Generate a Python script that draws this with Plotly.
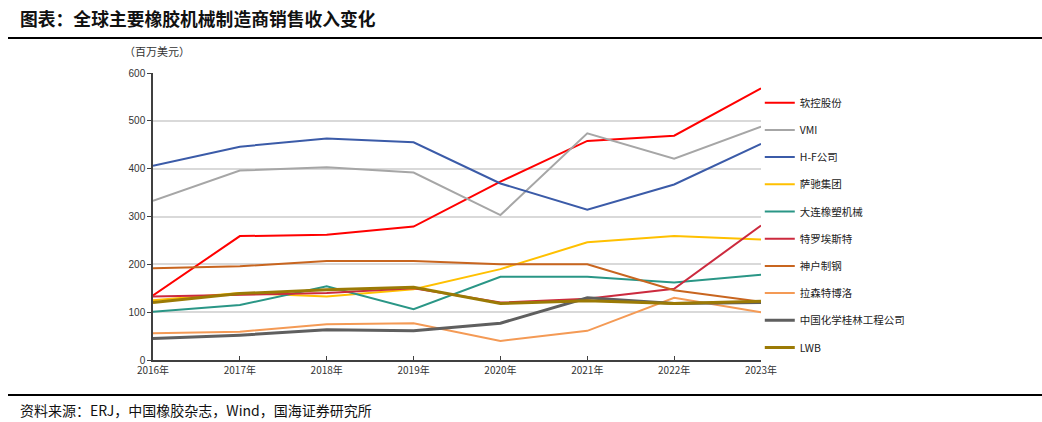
import plotly.graph_objects as go

years = [2016, 2017, 2018, 2019, 2020, 2021, 2022, 2023]
year_labels = ["2016年", "2017年", "2018年", "2019年", "2020年", "2021年", "2022年", "2023年"]

names = ["软控股份", "VMI", "H-F公司", "萨驰集团", "大连橡塑机械", "特罗埃斯特",
         "神户制钢", "拉森特博洛", "中国化学桂林工程公司", "LWB"]

ruankong = [135, 259, 262, 279, 373, 458, 469, 568]
vmi = [333, 396, 403, 392, 303, 474, 421, 488]
hf = [406, 446, 463, 455, 369, 314, 367, 452]
sachi = [125, 140, 133, 148, 190, 246, 259, 252]
dalian = [101, 115, 154, 106, 174, 174, 162, 178]
troester = [133, 136, 140, 150, 120, 128, 149, 281]
kobe = [192, 196, 207, 207, 200, 200, 146, 122]
larsen = [56, 59, 75, 77, 40, 61, 130, 100]
guilin = [45, 52, 63, 61, 77, 130, 118, 120]
lwb = [120, 139, 147, 152, 118, 124, 118, 123]

series = [ruankong, vmi, hf, sachi, dalian, troester, kobe, larsen, guilin, lwb]
colors = ["#ff0000", "#a6a6a6", "#3b5ba8", "#ffc000", "#2a9686", "#cc2a3e",
          "#c8651f", "#f49a55", "#5f5f5f", "#9b7a05"]
widths = [2, 2, 2, 2, 2, 2, 2, 2, 3, 3]

CJK = "Noto Sans CJK SC"

fig = go.Figure()
for i, (n, v) in enumerate(zip(names, series)):
    fig.add_trace(go.Scatter(
        x=years, y=v, name=n, mode="lines", legendgroup=str(i),
        line=dict(color=colors[i], width=widths[i]),
        hoverinfo="skip",
    ))

fig.update_layout(
    width=1042, height=422,
    margin=dict(l=153, r=281, t=73, b=62),
    paper_bgcolor="white", plot_bgcolor="white",
    showlegend=True,
    legend=dict(
        x=0.998, xanchor="left", y=0.947, yanchor="top",
        font=dict(family=CJK, size=10.5, color="#222222"),
        tracegroupgap=8.2, itemwidth=30, bgcolor="rgba(0,0,0,0)",
    ),
    xaxis=dict(
        range=[2016, 2023], tickvals=years, ticktext=year_labels,
        showgrid=False, zeroline=False,
        showline=True, linecolor="#404040", linewidth=1.5,
        ticks="inside", ticklen=4, tickcolor="#404040",
        tickfont=dict(family=CJK, size=10, color="#333333"),
        fixedrange=True,
    ),
    yaxis=dict(
        range=[0, 600], tickvals=[0, 100, 200, 300, 400, 500, 600],
        showgrid=True, gridcolor="#d9d9d9", gridwidth=1.5,
        zeroline=False, showline=True, linecolor="#404040", linewidth=1.5,
        ticks="outside", ticklen=4, tickcolor="#404040",
        tickfont=dict(family="Liberation Sans", size=10, color="#333333"),
        fixedrange=True,
    ),
)

# title, unit and source
fig.add_annotation(
    text="<b>图表：全球主要橡胶机械制造商销售收入变化</b>",
    xref="paper", yref="paper", x=(18 - 153) / 608, y=(360 - 18) / 287,
    xanchor="left", yanchor="middle", showarrow=False,
    font=dict(family=CJK, size=17.8, color="#111111"),
)
fig.add_annotation(
    text="（百万美元）",
    xref="paper", yref="paper", x=(122 - 153) / 608, y=(360 - 51) / 287,
    xanchor="left", yanchor="middle", showarrow=False,
    font=dict(family=CJK, size=11, color="#333333"),
)
fig.add_annotation(
    text="资料来源：ERJ，中国橡胶杂志，Wind，国海证券研究所",
    xref="paper", yref="paper", x=(18 - 153) / 608, y=(360 - 410) / 287,
    xanchor="left", yanchor="middle", showarrow=False,
    font=dict(family=CJK, size=14, color="#111111"),
)

# rules above and below the chart
for yy, w in [(38, 2), (395, 2)]:
    fig.add_shape(
        type="line", xref="paper", yref="paper",
        x0=(8 - 153) / 608, x1=(1042 - 153) / 608,
        y0=(360 - yy) / 287, y1=(360 - yy) / 287,
        line=dict(color="#000000", width=w),
    )

fig.write_html(
    "out.html",
    config={"displayModeBar": False},
    post_script="document.body.style.margin='0';document.body.style.overflow='hidden';",
)
